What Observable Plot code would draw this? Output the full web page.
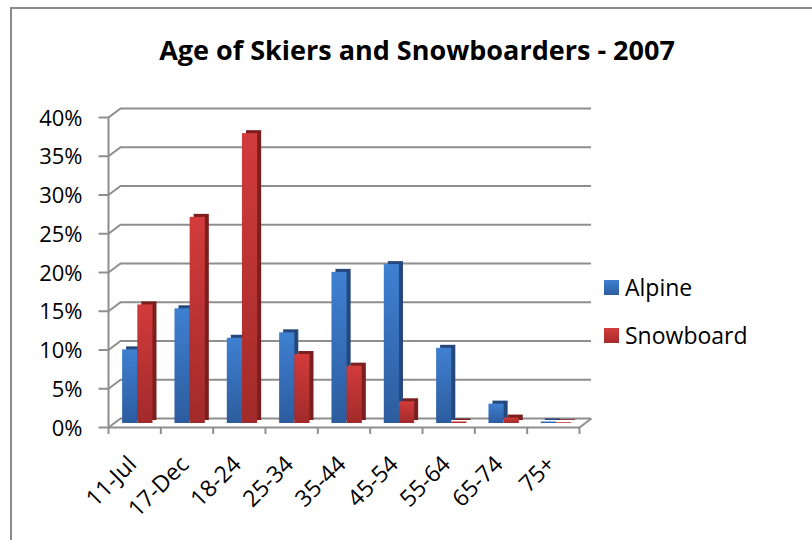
<!DOCTYPE html>
<html><head><meta charset="utf-8">
<script src="https://cdn.jsdelivr.net/npm/d3@7"></script>
<script src="https://cdn.jsdelivr.net/npm/@observablehq/plot@0.6"></script>
<style>
body{margin:0;background:#fff;}
#wrap{position:relative;width:812px;height:540px;overflow:hidden;font-family:"Open Sans",sans-serif;color:#000;}
#frame{position:absolute;left:10px;top:7px;width:900px;height:700px;border-left:2px solid #8a8a8a;border-top:2px solid #8a8a8a;}
#title{position:absolute;left:0;width:834px;top:31px;text-align:center;font-weight:bold;font-size:27px;line-height:37px;white-space:nowrap;}
#chart{position:absolute;left:0;top:0;}
.leg{position:absolute;left:604px;font-size:23px;line-height:24px;}
.sw{position:absolute;left:0;top:5px;width:15px;height:15px;}
.lt{position:absolute;left:21px;top:0;white-space:nowrap;}
</style></head>
<body>
<div id="wrap">
  <div id="frame"></div>
  <div id="chart"></div>
  <div id="title">Age of Skiers and Snowboarders - 2007</div>
  <div class="leg" style="top:275px"><div class="sw" style="background:linear-gradient(#3f80d2,#2c5d9f)"></div><div class="lt">Alpine</div></div>
  <div class="leg" style="top:323px"><div class="sw" style="background:linear-gradient(#d33c3c,#a52a2a)"></div><div class="lt">Snowboard</div></div>
</div>
<script>
// ---- data ----
const categories = ["11-Jul", "17-Dec", "18-24", "25-34", "35-44", "45-54", "55-64", "65-74", "75+"];
const alpine     = [9.5, 14.8, 11.0, 11.7, 19.5, 20.5, 9.7, 2.5, 0.2];
const snowboard  = [15.3, 26.6, 37.4, 8.9, 7.4, 2.8, 0.2, 0.7, 0.1];
const yTicks     = [0, 5, 10, 15, 20, 25, 30, 35, 40];

const rows = categories.map((c, i) => ({i, cat: c, alpine: alpine[i], snow: snowboard[i]}));
const xTickIdx = categories.map((c, i) => i).concat([categories.length]);

// pixel geometry helpers (front plane)
const W = 812, H = 540, mL = 108, mR = 233, mT = 117, mB = 113;
const pxX = (W - mL - mR) / categories.length;
const pxY = (H - mT - mB) / 40;
const depthX = 12 / pxX, depthY = 9 / pxY;
const grid = "#8e8e8e";

const svg = Plot.plot({
  width: W, height: H,
  marginLeft: mL, marginRight: mR, marginTop: mT, marginBottom: mB,
  x: {type: "linear", domain: [0, categories.length], axis: null},
  y: {domain: [0, 40], axis: null},
  style: {fontFamily: "Open Sans, sans-serif", fontSize: "22px", color: "#000", background: "transparent", overflow: "visible"},
  marks: [
    // back wall gridlines
    Plot.ruleY(yTicks, {y: d => d, x1: 0, x2: categories.length, dx: 12, dy: -9, stroke: grid, strokeWidth: 2}),
    // left wall diagonals
    Plot.link(yTicks, {x1: 0, x2: depthX, y1: d => d, y2: d => d + depthY, stroke: grid, strokeWidth: 2}),
    // front axis line
    Plot.ruleX([0], {y1: 0, y2: 40, stroke: grid, strokeWidth: 2}),
    // floor front edge and right diagonal
    Plot.ruleY([0], {x1: 0, x2: categories.length, stroke: grid, strokeWidth: 2}),
    Plot.link([categories.length], {x1: d => d, x2: d => d + depthX, y1: 0, y2: depthY, stroke: grid, strokeWidth: 2}),
    // y tick marks
    Plot.link(yTicks, {x1: -10 / pxX, x2: 0, y1: d => d, y2: d => d, stroke: grid, strokeWidth: 2}),
    // x tick marks
    Plot.ruleX(xTickIdx, {x: d => d, y1: 0, y2: -7 / pxY, stroke: grid, strokeWidth: 2}),
    // Alpine bars (side + front)
    Plot.rect(rows, {x1: d => d.i + 0.27, x2: d => d.i + 0.56, y1: 0, y2: d => d.alpine, dx: 4, dy: -7, fill: "#24477c"}),
    Plot.rect(rows, {x1: d => d.i + 0.27, x2: d => d.i + 0.56, y1: 0, y2: d => d.alpine, dy: -4, fill: "url(#gA)"}),
    // Snowboard bars (side + front)
    Plot.rect(rows, {x1: d => d.i + 0.56, x2: d => d.i + 0.85, y1: 0, y2: d => d.snow, dx: 4, dy: -7, fill: "#7a1e1e"}),
    Plot.rect(rows, {x1: d => d.i + 0.56, x2: d => d.i + 0.85, y1: 0, y2: d => d.snow, dy: -4, fill: "url(#gS)"}),
    // y labels
    Plot.text(yTicks, {x: 0, y: d => d, text: d => d + "%", textAnchor: "end", dx: -26, dy: 1, fontSize: 22, fill: "#000"}),
    // x labels
    Plot.text(rows, {x: d => d.i + 0.5, y: 0, text: "cat", rotate: -45, textAnchor: "end", dx: -2, dy: 33, fontSize: 23, fill: "#000"})
  ]
});

const defs = d3.select(svg).insert("defs", ":first-child");
function grad(id, c1, c2) {
  const g = defs.append("linearGradient").attr("id", id).attr("x1", 0).attr("y1", 0).attr("x2", 0).attr("y2", 1);
  g.append("stop").attr("offset", "0%").attr("stop-color", c1);
  g.append("stop").attr("offset", "100%").attr("stop-color", c2);
}
grad("gA", "#3f80d2", "#2c5c9e");
grad("gS", "#d23b3b", "#a22a2a");

document.getElementById("chart").appendChild(svg);
</script>
</body></html>
